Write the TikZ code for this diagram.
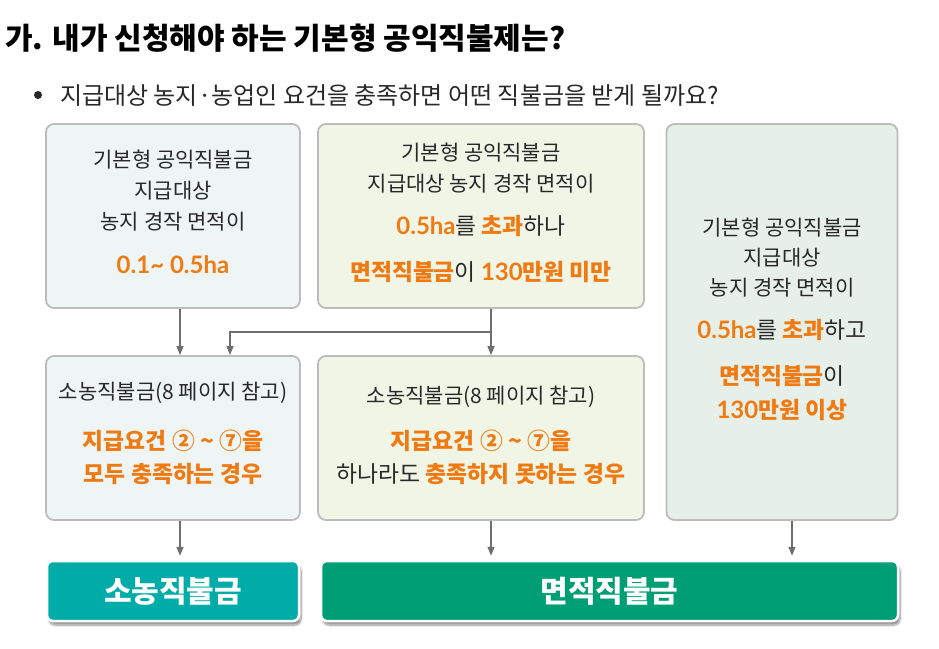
\documentclass[tikz,border=0pt]{standalone}
\usepackage{fontspec}
\setmainfont{Noto Sans CJK KR}
\newfontfamily\latofont{Lato}
\usetikzlibrary{arrows.meta,shadows.blur}
\definecolor{orng}{RGB}{240,122,18}
\definecolor{txt}{RGB}{40,40,40}
\definecolor{boxline}{RGB}{188,188,188}
\definecolor{fillA}{RGB}{238,245,244}
\definecolor{fillB}{RGB}{241,245,230}
\definecolor{fillC}{RGB}{230,240,232}
\definecolor{arrc}{RGB}{110,110,110}
\definecolor{tealc}{RGB}{0,172,168}
\definecolor{greenc}{RGB}{0,158,117}
\newcommand{\orb}[1]{\textcolor{orng}{\bfseries #1}}
\newcommand{\lt}[1]{{\latofont\fontsize{24}{28}\selectfont #1}}
\tikzset{
  box/.style={draw=boxline, line width=1.8pt, rounded corners=8pt, inner sep=0pt},
  body/.style={font=\fontsize{21}{25}\selectfont, text=txt, inner sep=0pt, text height=16.8pt, text depth=0.9pt},
  hi/.style={font=\fontsize{22.8}{27}\selectfont, text=txt, inner sep=0pt, text height=18.2pt, text depth=1pt},
  arr/.style={draw=arrc, line width=1.2pt, -{Triangle[length=9pt,width=7pt]}},
  ln/.style={draw=arrc, line width=1.2pt},
  res/.style={rounded corners=6pt, draw=white, line width=2.5pt, text=white, inner sep=0pt,
    font=\fontsize{30}{34}\selectfont\bfseries,
    blur shadow={shadow xshift=2pt, shadow yshift=-4pt, shadow blur steps=8, shadow opacity=45}},
}
\begin{document}
\begin{tikzpicture}[x=1pt,y=-1pt]
\useasboundingbox (0,0) rectangle (939,648);
% title
\node[anchor=west, inner sep=0pt, font=\fontsize{30}{34}\selectfont\bfseries, text height=24pt, text depth=1pt] (title) at (5,38) {가. 내가 신청해야 하는 기본형 공익직불제는?};
\fill[txt] (38,95) circle (4);
\node[anchor=west, inner sep=0pt, font=\fontsize{24}{28}\selectfont, text=txt, text height=19.2pt, text depth=1pt] (sub) at (60,95) {지급대상 농지·농업인 요건을 충족하면 어떤 직불금을 받게 될까요?};

% boxes
\node[box, fill=fillA, minimum width=254pt, minimum height=184pt] (boxA) at (173,216) {};
\node[box, fill=fillB, minimum width=326pt, minimum height=184pt] (boxB) at (481,216) {};
\node[box, fill=fillC, minimum width=231pt, minimum height=396pt] (boxC) at (782,322) {};
\node[box, fill=fillA, minimum width=254pt, minimum height=164pt] (boxD) at (173,438) {};
\node[box, fill=fillB, minimum width=326pt, minimum height=164pt] (boxE) at (481,438) {};

% box A text
\node[body] (a1) at (173,160) {기본형 공익직불금};
\node[body] (a2) at (173,191) {지급대상};
\node[body] (a3) at (173,222) {농지 경작 면적이};
\node[hi] (a4) at (173,265) {\orb{\lt{0.1\textasciitilde{} 0.5ha}}};

% box B text
\node[body] (b1) at (481,153) {기본형 공익직불금};
\node[body] (b2) at (481,184) {지급대상 농지 경작 면적이};
\node[hi] (b3) at (481,226) {\orb{\lt{0.5ha}}를 \orb{초과}하나};
\node[hi] (b4) at (481,272) {\orb{면적직불금}이 \orb{\lt{130}만원 미만}};

% box C text
\node[body] (c1) at (782,228) {기본형 공익직불금};
\node[body] (c2) at (782,258) {지급대상};
\node[body] (c3) at (782,288) {농지 경작 면적이};
\node[hi] (c4) at (782,330) {\orb{\lt{0.5ha}}를 \orb{초과}하고};
\node[hi] (c5) at (782,376) {\orb{면적직불금}이};
\node[hi] (c6) at (782,410) {\orb{\lt{130}만원 이상}};

% box D text
\node[body] (d1) at (173,392) {소농직불금(8 페이지 참고)};
\node[hi] (d2) at (173,441) {\orb{지급요건 ② \textasciitilde{} ⑦을}};
\node[hi] (d3) at (173,474) {\orb{모두 충족하는 경우}};

% box E text
\node[body] (e1) at (481,396) {소농직불금(8 페이지 참고)};
\node[hi] (e2) at (481,441) {\orb{지급요건 ② \textasciitilde{} ⑦을}};
\node[hi] (e3) at (481,474) {하나라도 \orb{충족하지 못하는 경우}};

% result boxes
\node[res, fill=tealc, minimum width=252pt, minimum height=60pt] (small) at (173,591) {소농직불금};
\node[res, fill=greenc, minimum width=577pt, minimum height=60pt] (area) at (609.5,591) {면적직불금};

% connectors
\coordinate (j) at (491,332);
\draw[arr] (boxA.south -| 180,0) -- (boxD.north -| 180,0);
\draw[ln] (boxB.south -| j) -- (j);
\draw[arr] (j) -- (j -| 230,0) -- (boxD.north -| 230,0);
\draw[arr] (j) -- (boxE.north -| j);
\draw[arr, shorten >=4pt] (boxD.south -| 180,0) -- (small.north -| 180,0);
\draw[arr, shorten >=4pt] (boxE.south -| j) -- (area.north -| j);
\draw[arr, shorten >=4pt] (boxC.south -| 792,0) -- (area.north -| 792,0);
\end{tikzpicture}
\end{document}
